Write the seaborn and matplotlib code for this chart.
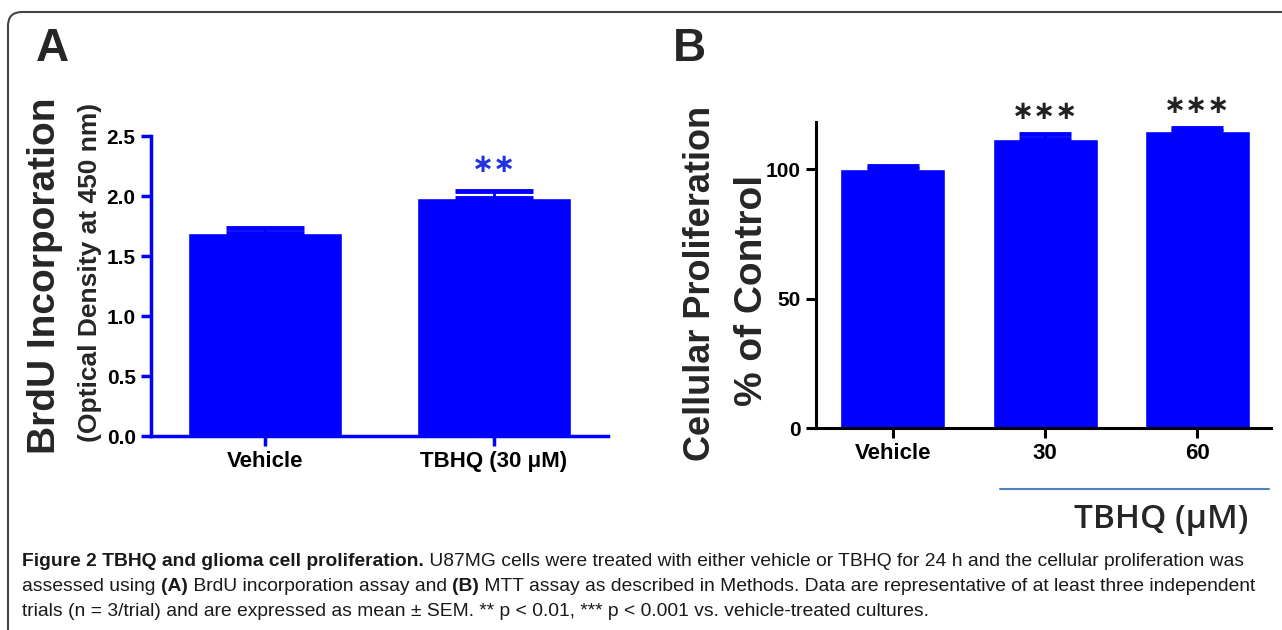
import numpy as np
import pandas as pd
import seaborn as sns
import matplotlib.pyplot as plt
from matplotlib.patches import FancyBboxPatch
from matplotlib.transforms import IdentityTransform

# Panel A: BrdU incorporation
brdu_groups = ["Vehicle", "TBHQ (30 μM)"]
brdu_mean = [1.69, 1.98]
brdu_sem = [0.045, 0.06]
brdu_stars = ["", "∗∗"]

# Panel B: MTT assay
mtt_groups = ["Vehicle", "30", "60"]
mtt_mean = [100.0, 111.8, 114.8]
mtt_sem = [1.3, 1.8, 1.2]
mtt_stars = ["", "∗∗∗", "∗∗∗"]

caption_lines = [
    [("Figure 2 TBHQ and glioma cell proliferation.", "bold"),
     (" U87MG cells were treated with either vehicle or TBHQ for 24 h and the cellular proliferation was", "normal")],
    [("assessed using ", "normal"), ("(A)", "bold"), (" BrdU incorporation assay and ", "normal"),
     ("(B)", "bold"), (" MTT assay as described in Methods. Data are representative of at least three independent", "normal")],
    [("trials (n = 3/trial) and are expressed as mean ± SEM. ** p < 0.01, *** p < 0.001 vs. vehicle-treated cultures.", "normal")],
]

BLUE = "#0000ff"
W, H = 1282, 630

sns.set_theme(style="ticks")
plt.rcParams['font.family'] = ['Liberation Sans', 'DejaVu Sans']

fig = plt.figure(figsize=(W / 100, H / 100), dpi=100)
px = IdentityTransform()


def ax_at(left, top, right, bottom):
    return fig.add_axes([left / W, 1 - bottom / H, (right - left) / W, (bottom - top) / H])


def style_axis(ax, color, lw):
    sns.despine(ax=ax)
    for side in ["left", "bottom"]:
        ax.spines[side].set_color(color)
        ax.spines[side].set_linewidth(lw)
    ax.tick_params(direction="out", length=7, width=lw, color=color,
                   labelcolor="black", pad=4)
    for lab in ax.get_xticklabels():
        lab.set_fontweight("bold")
        lab.set_fontsize(16)
    for lab in ax.get_yticklabels():
        lab.set_fontweight("bold")
        lab.set_fontsize(15)
    ax.set_xlabel("")
    ax.set_ylabel("")
    ax.set_facecolor("none")


def add_stars(ax, means, sems, stars, offset, color):
    for i, s in enumerate(stars):
        if s:
            ax.annotate(s, (i, means[i] + sems[i]), xytext=(0, offset),
                        textcoords="offset points", ha="center", va="center",
                        fontsize=19, fontweight="bold", family="DejaVu Sans", color=color)


# ---- Panel A ----
axA = ax_at(151, 136, 608, 436)
dfA = pd.DataFrame({"group": brdu_groups, "value": brdu_mean})
sns.barplot(data=dfA, x="group", y="value", color=BLUE, saturation=1,
            width=0.675, errorbar=None, ax=axA)
axA.errorbar(range(len(brdu_mean)), brdu_mean, yerr=[np.zeros(len(brdu_sem)), brdu_sem],
             fmt="none", ecolor=BLUE, elinewidth=2, capsize=28, capthick=3.5)
axA.set_ylim(0, 2.5)
axA.set_xlim(-0.5, 1.5)
axA.set_yticks(np.arange(0, 2.51, 0.5))
axA.set_yticklabels([f"{v:.1f}" for v in np.arange(0, 2.51, 0.5)])
style_axis(axA, BLUE, 2.5)
add_stars(axA, brdu_mean, brdu_sem, brdu_stars, 19, "#2233dd")

# ---- Panel B ----
axB = ax_at(816, 122, 1271, 428)
dfB = pd.DataFrame({"group": mtt_groups, "value": mtt_mean})
sns.barplot(data=dfB, x="group", y="value", color=BLUE, saturation=1,
            width=0.69, errorbar=None, ax=axB)
axB.errorbar(range(len(mtt_mean)), mtt_mean, yerr=[np.zeros(len(mtt_sem)), mtt_sem],
             fmt="none", ecolor=BLUE, elinewidth=2.5, capsize=19, capthick=3.5)
axB.set_ylim(0, 118.3)
axB.set_xlim(-0.505, 2.485)
axB.set_yticks([0, 50, 100])
style_axis(axB, "black", 2.2)
add_stars(axB, mtt_mean, mtt_sem, mtt_stars, 16, "#222222")

# ---- labels ----
fig.text(52 / W, 1 - 49 / H, "A", fontsize=33, fontweight="bold", ha="center", va="center")
fig.text(689 / W, 1 - 49 / H, "B", fontsize=33, fontweight="bold", ha="center", va="center")
fig.text(45 / W, 1 - 276 / H, "BrdU Incorporation", rotation=90, fontsize=28,
         fontweight="bold", ha="center", va="center")
fig.text(90 / W, 1 - 272 / H, "(Optical Density at 450 nm)", rotation=90, fontsize=19,
         fontweight="bold", ha="center", va="center")
fig.text(700 / W, 1 - 283 / H, "Cellular Proliferation", rotation=90, fontsize=26,
         fontweight="bold", ha="center", va="center")
fig.text(752 / W, 1 - 290 / H, "% of Control", rotation=90, fontsize=28,
         fontweight="bold", ha="center", va="center")

# bracket under the TBHQ doses
fig.add_artist(plt.Line2D([1000 / W, 1269 / W], [1 - 489 / H, 1 - 489 / H],
                          color="#4f81bd", lw=1.5))
fig.text(1161 / W, 1 - 519 / H, "TBHQ (μM)", fontsize=24, family="Open Sans",
         fontweight="semibold", ha="center", va="center")

# ---- caption ----
renderer = fig.canvas.get_renderer()
for k, segs in enumerate(caption_lines):
    x = 22
    y = H - (566 + 25 * k)
    for txt, weight in segs:
        t = fig.text(x, y, txt, transform=px, fontsize=13.9, fontweight=weight,
                     family="Liberation Sans", ha="left", va="baseline", color="#1a1a1a")
        x = t.get_window_extent(renderer).x1

# rounded frame
frame = FancyBboxPatch((8, -20), 1320, H - 12 + 20, boxstyle="round,pad=0,rounding_size=14",
                       transform=px, fill=False, edgecolor="#444444", lw=1.5)
fig.add_artist(frame)

fig.savefig("out.png", dpi=100)
